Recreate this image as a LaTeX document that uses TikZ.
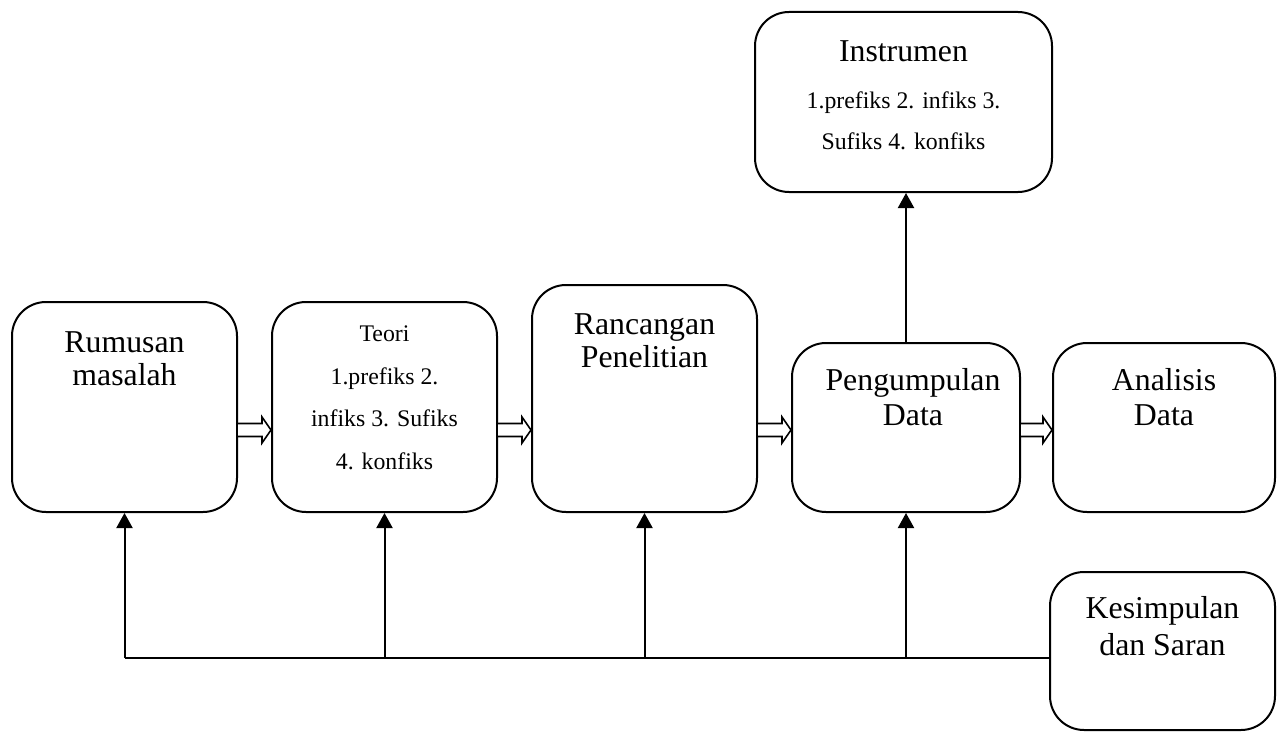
\documentclass[tikz,border=0pt]{standalone}
\usepackage{fontspec}
\setmainfont{Liberation Serif}
\usetikzlibrary{arrows.meta,calc,positioning}

\tikzset{
    box/.style={draw, line width=1pt, rounded corners=17pt, inner sep=0pt},
    bigtxt/.style={font=\fontsize{15.9}{17}\selectfont, align=center, inner sep=0pt, anchor=base},
    smalltxt/.style={font=\fontsize{11.9}{21.2}\selectfont, align=center, inner sep=0pt, anchor=base},
    blockline/.style={draw, line width=0.8pt, fill=white, line join=miter},
    uparrow/.style={line width=1pt, -{Triangle[length=7.5pt,width=8pt]}},
}

% hollow block arrow from the east side of #1 to the west side of #2 at height #3
\newcommand{\blockarr}[3]{
    \path[blockline] ($(#1.east |- 0,#3)+(0,-6.5)$) -- ($(#2.west |- 0,#3)+(-9,-6.5)$)
        -- ($(#2.west |- 0,#3)+(-9,-13)$) -- (#2.west |- 0,#3)
        -- ($(#2.west |- 0,#3)+(-9,13)$) -- ($(#2.west |- 0,#3)+(-9,6.5)$)
        -- ($(#1.east |- 0,#3)+(0,6.5)$);
}

\begin{document}
\begin{tikzpicture}[x=0.5pt, y=-0.5pt]
    \useasboundingbox (0,0) rectangle (1285,733);

    % boxes
    \node[box, minimum width=112.5pt, minimum height=105pt] (rumusan) at (124.5,407) {};
    \node[box, minimum width=112.5pt, minimum height=105pt] (teori) at (384.5,407) {};
    \node[box, minimum width=112.5pt, minimum height=113.5pt] (rancangan) at (644.5,398.5) {};
    \node[box, minimum width=114pt, minimum height=84.5pt] (pengumpulan) at (906,427.5) {};
    \node[box, minimum width=111pt, minimum height=84.5pt] (analisis) at (1164,427.5) {};
    \node[box, minimum width=148.5pt, minimum height=90pt] (instrumen) at (903.5,102) {};
    \node[box, minimum width=112.5pt, minimum height=79pt] (kesimpulan) at (1162.5,651) {};

    % texts (anchored at the baseline of the last line)
    \node[bigtxt, font=\fontsize{15.9}{16.5}\selectfont] (rumusan-txt) at (124.5,385) {Rumusan\\masalah};
    \node[smalltxt] (teori-txt) at (384.5,469) {Teori\\1.prefiks 2.\\infiks 3. Sufiks\\4. konfiks};
    \node[bigtxt, font=\fontsize{15.9}{16.5}\selectfont] (rancangan-txt) at (644.5,367) {Rancangan\\Penelitian};
    \node[bigtxt, font=\fontsize{15.9}{17.5}\selectfont] (pengumpulan-txt) at (913,425) {Pengumpulan\\Data};
    \node[bigtxt, font=\fontsize{15.9}{17.5}\selectfont] (analisis-txt) at (1164,425) {Analisis\\Data};
    \node[bigtxt] (instrumen-txt) at (903.5,62) {Instrumen};
    \node[smalltxt, font=\fontsize{11.9}{20.5}\selectfont] (instrumen-sub) at (903.5,149) {1.prefiks 2. infiks 3.\\Sufiks 4. konfiks};
    \node[bigtxt, font=\fontsize{15.9}{18.5}\selectfont] (kesimpulan-txt) at (1162.5,655) {Kesimpulan\\dan Saran};

    % block arrows along the row
    \blockarr{rumusan}{teori}{430}
    \blockarr{teori}{rancangan}{430}
    \blockarr{rancangan}{pengumpulan}{430}
    \blockarr{pengumpulan}{analisis}{430}

    % feedback line from Kesimpulan
    \coordinate (fb) at (kesimpulan.west |- 0,658);
    \draw[line width=1pt] (fb) -- (rumusan.south |- fb);
    \foreach \n in {rumusan, teori, rancangan, pengumpulan}
        \draw[uparrow] (\n.south |- fb) -- (\n.south);

    \draw[uparrow] (pengumpulan.north) -- (pengumpulan.north |- instrumen.south);
\end{tikzpicture}
\end{document}
